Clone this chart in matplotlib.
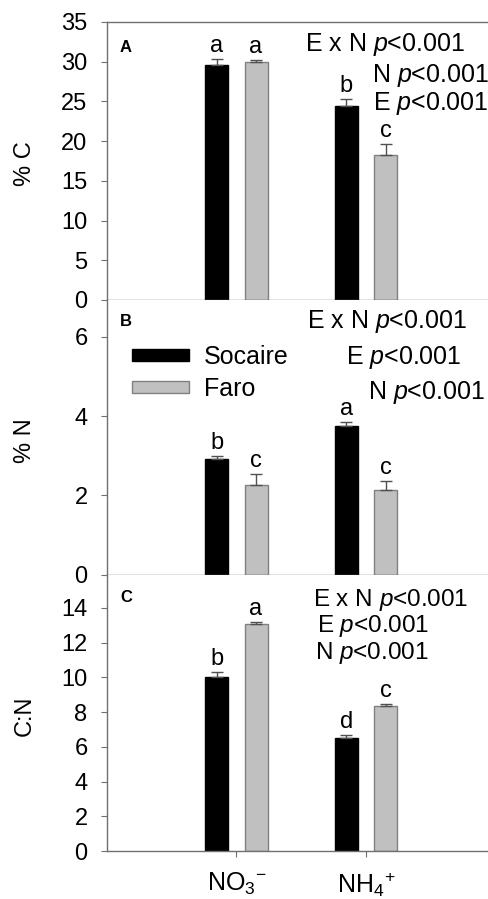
import numpy as np
import matplotlib
matplotlib.use("Agg")
import matplotlib.pyplot as plt

plt.rcParams['font.family'] = ['Liberation Sans', 'DejaVu Sans']
plt.rcParams['mathtext.fontset'] = 'custom'
plt.rcParams['mathtext.rm'] = 'Liberation Sans'
plt.rcParams['mathtext.it'] = 'Liberation Sans:italic'
plt.rcParams['mathtext.bf'] = 'Liberation Sans:bold'

# data
treatments = ['NO$_3$$^{-}$', 'NH$_4$$^{+}$']
series = ['Socaire', 'Faro']

pctC = {'Socaire': [29.6, 24.4], 'Faro': [30.0, 18.2]}
pctC_err = {'Socaire': [0.7, 0.9], 'Faro': [0.25, 1.5]}
pctC_let = {'Socaire': ['a', 'b'], 'Faro': ['a', 'c']}

pctN = {'Socaire': [2.92, 3.74], 'Faro': [2.27, 2.14]}
pctN_err = {'Socaire': [0.07, 0.12], 'Faro': [0.26, 0.23]}
pctN_let = {'Socaire': ['b', 'a'], 'Faro': ['c', 'c']}

cn = {'Socaire': [10.04, 6.49], 'Faro': [13.07, 8.37]}
cn_err = {'Socaire': [0.25, 0.21], 'Faro': [0.1, 0.11]}
cn_let = {'Socaire': ['b', 'd'], 'Faro': ['a', 'c']}

stats_A = ['E x N $p$<0.001', 'N $p$<0.001', 'E $p$<0.001']
stats_B = ['E x N $p$<0.001', 'E $p$<0.001', 'N $p$<0.001']
stats_C = ['E x N $p$<0.001', 'E $p$<0.001', 'N $p$<0.001']

W, H = 489, 899
fig = plt.figure(figsize=(W / 100, H / 100), dpi=100)


def fx(x):
    return x / W


def fy(y):
    return 1 - y / H


colors = {'Socaire': 'black', 'Faro': '#c0c0c0'}
edges = {'Socaire': 'black', 'Faro': '#808080'}
offs = {'Socaire': -0.151, 'Faro': 0.151}
spine_c = '#707070'

left = 107
panels = [
    # top px, bottom px, ylim top, ticks, data
    (22, 300, 35, np.arange(0, 36, 5), pctC, pctC_err, pctC_let, '% C', 'A'),
    (300, 574.5, 6.93, [0, 2, 4, 6], pctN, pctN_err, pctN_let, '% N', 'B'),
    (574.5, 851, 15.93, np.arange(0, 15, 2), cn, cn_err, cn_let, 'C:N', 'C'),
]

axes = []
x = np.arange(1, len(treatments) + 1)
for top, bot, ytop, ticks, vals, errs, lets, ylab, tag in panels:
    ax = fig.add_axes([fx(left), fy(bot), 1 - fx(left), (bot - top) / H])
    for s in series:
        ax.bar(x + offs[s], vals[s], width=0.178, color=colors[s],
               edgecolor=edges[s], linewidth=1, label=s, zorder=2)
        ax.errorbar(x + offs[s], vals[s], yerr=[[0] * len(x), errs[s]],
                    fmt='none', ecolor='#505050', elinewidth=1, capsize=4,
                    capthick=1, zorder=3)
        for xi, v, e, l in zip(x + offs[s], vals[s], errs[s], lets[s]):
            ax.annotate(l, (xi, v + e), xytext=(0, 5), textcoords='offset points',
                        ha='center', va='baseline', fontsize=17)
    ax.set_xlim(0, 2.95)
    ax.set_ylim(0, ytop)
    ax.set_yticks(ticks)
    ax.spines['right'].set_visible(False)
    if tag != 'A':
        ax.spines['top'].set_visible(False)
    for sp in ['left', 'bottom', 'top']:
        ax.spines[sp].set_color(spine_c)
        ax.spines[sp].set_linewidth(1)
    ax.tick_params(axis='y', direction='out', length=4, pad=10, labelsize=17,
                   color=spine_c)
    ax.tick_params(axis='x', direction='out', length=4, color=spine_c)
    ax.set_xticks(x)
    if tag == 'C':
        ax.set_xticklabels(treatments, fontsize=18)
        ax.tick_params(axis='x', pad=10)
    else:
        ax.set_xticklabels([])
        ax.tick_params(axis='x', length=0)
    fig.text(fx(25), fy((top + bot) / 2 + 3), ylab, rotation=90, fontsize=17,
             ha='center', va='center')
    axes.append(ax)

# panel tags
for ax, tag, ty in zip(axes, ['A', 'B', 'C'], [48, 321, 598]):
    fig.text(fx(120), fy(ty), tag, fontsize=12, fontweight='bold',
             ha='left', va='center')

stat_pos = [
    (stats_A, [(305, 51), (372, 82), (373, 110)]),
    (stats_B, [(307, 328), (346, 364), (368, 399)]),
    (stats_C, [(313, 606), (317, 632), (315, 659)]),
]
for i, (txts, pos) in enumerate(stat_pos):
    fs = 17.5 if i == 2 else 18
    for t, (px, py) in zip(txts, pos):
        fig.text(fx(px), fy(py), t, fontsize=fs, ha='left', va='baseline')

axes[1].legend(loc='upper left', bbox_to_anchor=(fx(132), fy(345)),
               bbox_transform=fig.transFigure, frameon=False, fontsize=18,
               handlelength=2.28, handleheight=0.32, handletextpad=0.6,
               labelspacing=0.32, borderpad=0, borderaxespad=0)

fig.savefig('out.png', dpi=100)
